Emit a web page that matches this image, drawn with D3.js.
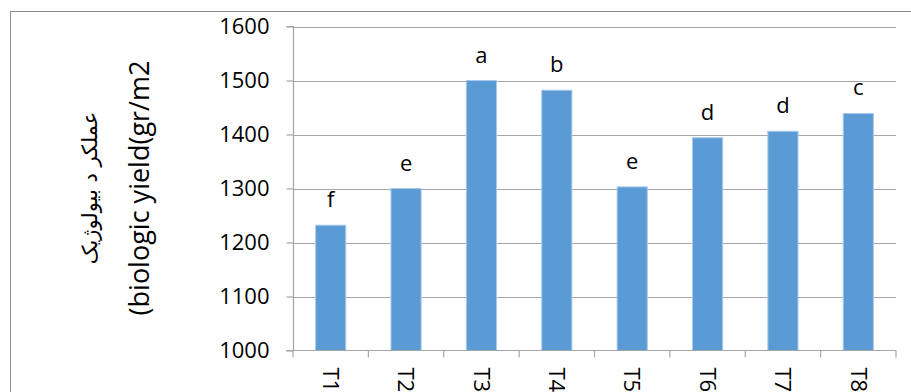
<!DOCTYPE html>
<html>
<head>
<meta charset="utf-8">
<script src="https://cdn.jsdelivr.net/npm/d3@7"></script>
<style>
  html, body { margin: 0; padding: 0; background: #fff; }
  svg { display: block; }
  text { font-family: "Open Sans", "Liberation Sans", sans-serif; fill: #000; }
</style>
</head>
<body>
<svg id="chart" width="911" height="392"></svg>
<script>
// Treatments and their biological yield (g/m2) with mean-separation letters
const treatments = ["T1", "T2", "T3", "T4", "T5", "T6", "T7", "T8"];
const yieldValues = [1232, 1300, 1500, 1482, 1303, 1394, 1406, 1439];
const groupLetters = ["f", "e", "a", "b", "e", "d", "d", "c"];
const yTicks = [1000, 1100, 1200, 1300, 1400, 1500, 1600];
const titleFa = "عملکر د بیولوژیک";
const titleEn = "(biologic yield(gr/m2";

const svg = d3.select("#chart");
const W = 911, H = 392;
const plot = { left: 293, right: 896, top: 26.5, bottom: 350.5 };

// chart area frame
svg.append("rect")
  .attr("x", 10.5).attr("y", 11.5)
  .attr("width", W + 20).attr("height", H + 20)
  .attr("fill", "#fff").attr("stroke", "#8c8c8c").attr("stroke-width", 1);

const x = d3.scaleBand()
  .domain(treatments)
  .range([plot.left, plot.right])
  .paddingInner(0.6)
  .paddingOuter(0.3);

const y = d3.scaleLinear()
  .domain([1000, 1600])
  .range([plot.bottom, plot.top]);

// horizontal gridlines
svg.append("g")
  .selectAll("line")
  .data(yTicks.filter(t => t > 1000))
  .join("line")
  .attr("x1", plot.left).attr("x2", plot.right)
  .attr("y1", d => Math.round(y(d)) + 0.5).attr("y2", d => Math.round(y(d)) + 0.5)
  .attr("stroke", "#a6a6a6").attr("stroke-width", 1.2);

// y axis
const yAxis = d3.axisLeft(y).tickValues(yTicks).tickSize(7).tickPadding(17).tickFormat(d3.format("d"));
const gy = svg.append("g").attr("transform", `translate(${plot.left + 0.5},0)`).call(yAxis);
gy.select(".domain").attr("stroke", "#a6a6a6").attr("stroke-width", 1.2)
  .attr("d", `M-7,${y(1600)}H0V${y(1000)}`);
gy.selectAll(".tick line").attr("stroke", "#a6a6a6").attr("stroke-width", 1.2);
gy.selectAll(".tick text")
  .style("font-family", "'Open Sans', sans-serif")
  .style("font-size", "22px").attr("fill", "#000");

// bars
const barColor = "#5b9bd5";
svg.append("g")
  .selectAll("rect")
  .data(treatments)
  .join("rect")
  .attr("x", d => x(d))
  .attr("width", x.bandwidth())
  .attr("y", (d, i) => y(yieldValues[i]))
  .attr("height", (d, i) => y(1000) - y(yieldValues[i]))
  .attr("fill", barColor)
  .attr("stroke", "#a9c9ec").attr("stroke-width", 1);

// x axis line and category boundary ticks
const step = x.step();
const edges = treatments.map(d => x(d) - step * x.paddingInner() / 2)
  .concat([x(treatments[treatments.length - 1]) + x.bandwidth() + step * x.paddingInner() / 2]);
svg.append("line")
  .attr("x1", plot.left - 7).attr("x2", plot.right)
  .attr("y1", y(1000)).attr("y2", y(1000))
  .attr("stroke", "#a6a6a6").attr("stroke-width", 1.2);
svg.append("g")
  .selectAll("line")
  .data(edges)
  .join("line")
  .attr("x1", d => d).attr("x2", d => d)
  .attr("y1", y(1000)).attr("y2", y(1000) + 7)
  .attr("stroke", "#a6a6a6").attr("stroke-width", 1.2);

// category labels, rotated
svg.append("g")
  .selectAll("text")
  .data(treatments)
  .join("text")
  .attr("transform", d => `translate(${x(d) + x.bandwidth() / 2},${y(1000) + 17}) rotate(90)`)
  .attr("dy", "0.35em")
  .attr("text-anchor", "start")
  .style("font-size", "22px")
  .text(d => d);

// significance letters above bars
svg.append("g")
  .selectAll("text")
  .data(treatments)
  .join("text")
  .attr("x", d => x(d) + x.bandwidth() / 2)
  .attr("y", (d, i) => y(yieldValues[i]) - 18)
  .attr("text-anchor", "middle")
  .style("font-size", "22px")
  .text((d, i) => groupLetters[i]);

// y axis title (two lines)
svg.append("text")
  .attr("transform", "translate(90,188) rotate(-90)")
  .attr("text-anchor", "middle").attr("dy", "0.35em")
  .style("font-family", "'DejaVu Sans', sans-serif")
  .style("font-size", "21px")
  .text(titleFa);
svg.append("text")
  .attr("transform", "translate(140,188) rotate(-90)")
  .attr("text-anchor", "middle").attr("dy", "0.35em")
  .style("font-size", "27px")
  .text(titleEn);
</script>
</body>
</html>
